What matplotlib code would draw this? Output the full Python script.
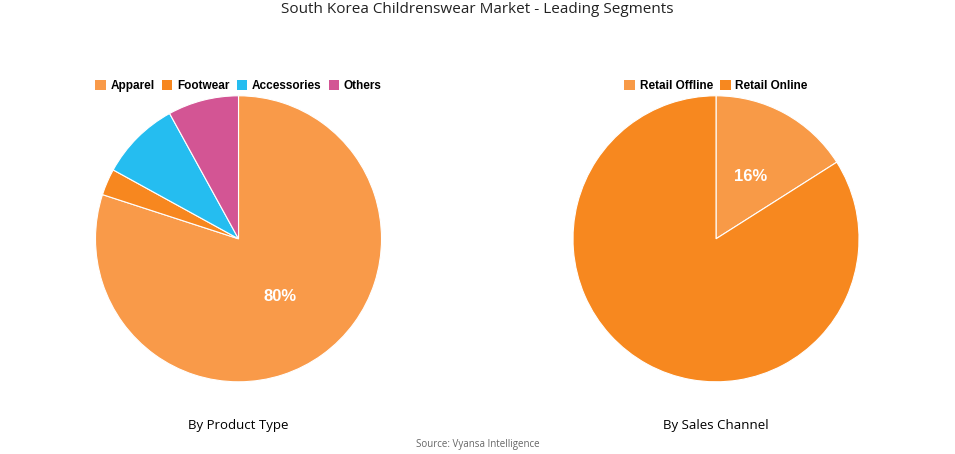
import matplotlib
matplotlib.use("Agg")
import matplotlib.pyplot as plt
from matplotlib.patches import Patch

plt.rcParams['font.family'] = ['Liberation Sans', 'DejaVu Sans']

prod_labels = ["Apparel", "Footwear", "Accessories", "Others"]
prod_values = [80, 3, 9, 8]
prod_colors = ["#F99A49", "#F7871F", "#25BDF0", "#D35594"]
prod_show = [True, False, False, False]

chan_labels = ["Retail Offline", "Retail Online"]
chan_values = [16, 84]
chan_colors = ["#F89A47", "#F7881F"]
chan_show = [True, False]

fig = plt.figure(figsize=(9.55, 4.54), dpi=100)
fig.text(0.5, 0.978, "South Korea Childrenswear Market - Leading Segments",
         ha='center', va='center', fontsize=11, color='#222222', family=['Open Sans', 'DejaVu Sans'])

def draw(rect, values, labels, colors, show, title):
    ax = fig.add_axes(rect)
    it = iter(show)
    wedges, texts, autos = ax.pie(values, colors=colors, startangle=90, counterclock=False,
        wedgeprops=dict(edgecolor='white', linewidth=0.8),
        autopct=lambda p: f"{p:.0f}%" if next(it) else "", pctdistance=0.5,
        textprops=dict(color='white', fontsize=12, fontweight='bold'))
    ax.set_xlim(-1, 1)
    ax.set_ylim(-1, 1)
    ax.set_aspect('equal')
    cx = rect[0] + rect[2] / 2
    handles = [Patch(facecolor=c, label=l) for c, l in zip(colors, labels)]
    fig.legend(handles=handles, loc='center', bbox_to_anchor=(cx, 1 - 86 / 454), ncol=len(labels),
               frameon=False, handlelength=0.9, handleheight=0.9, handletextpad=0.4,
               columnspacing=0.6, prop=dict(weight='bold', size=8.5))
    fig.text(cx, 1 - 425 / 454, title, ha='center', va='center', fontsize=9.5,
             family=['Open Sans', 'DejaVu Sans'])

draw([0.1, 0.159, 0.2995, 0.63], prod_values, prod_labels, prod_colors, prod_show, "By Product Type")
draw([0.6, 0.159, 0.2995, 0.63], chan_values, chan_labels, chan_colors, chan_show, "By Sales Channel")

fig.text(0.5, 1 - 444 / 454, "Source: Vyansa Intelligence", ha='center', va='center',
         fontsize=7, color='#666666', family=['Open Sans', 'DejaVu Sans'])

fig.savefig("out.png", dpi=100)
